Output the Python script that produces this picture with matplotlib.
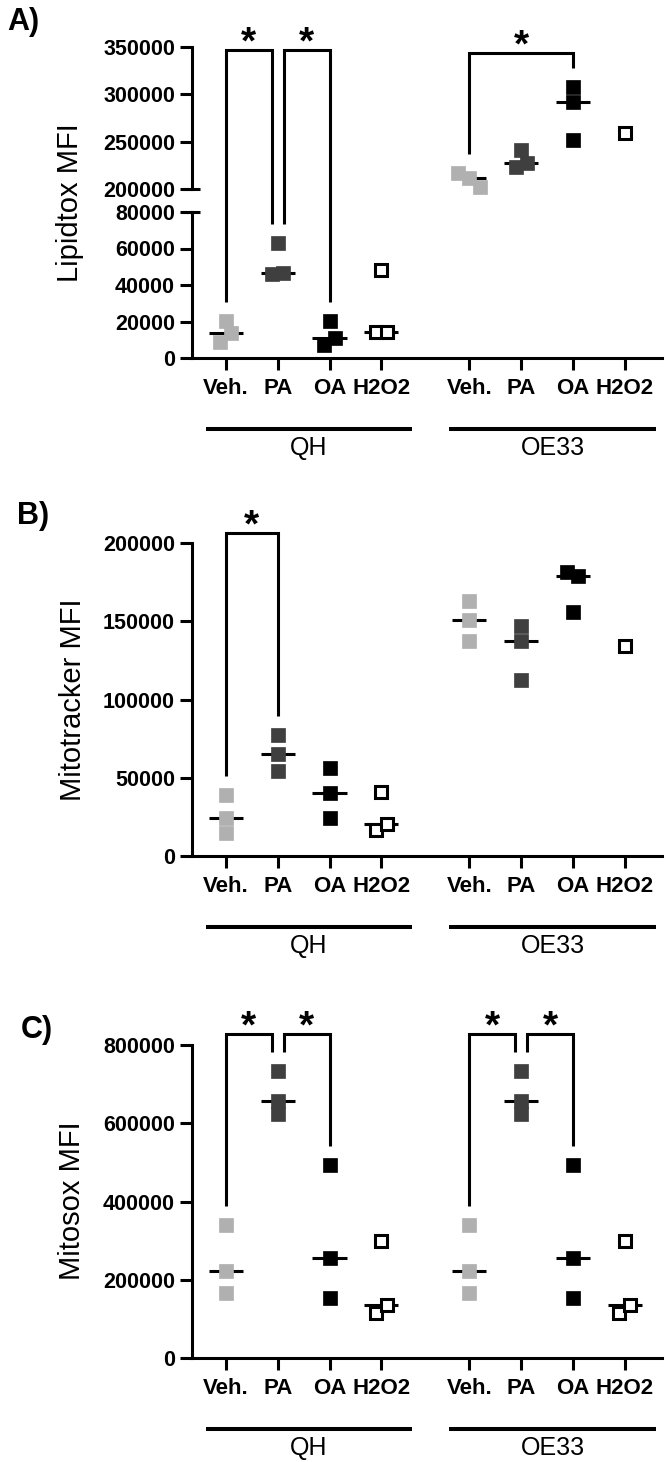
import matplotlib
matplotlib.use("Agg")
import matplotlib.pyplot as plt
from matplotlib.lines import Line2D
import numpy as np

plt.rcParams["font.family"] = ["Liberation Sans", "DejaVu Sans"]

# ---- data ----
treatments = ["Veh.", "PA", "OA", "H2O2"]
cell_lines = ["QH", "OE33"]

lipidtox_qh = [[20300, 8800, 13700], [63000, 46000, 46500], [20300, 7100, 10900], [48000, 14200, 14400]]
lipidtox_oe33 = [[216600, 211700, 202400], [241500, 223400, 227700], [307400, 291500, 252100], [259600]]

mitotracker_qh = [[39000, 24500, 15000], [77400, 65200, 54400], [56100, 40100, 24100], [41200, 16600, 20300]]
mitotracker_oe33 = [[162700, 151000, 137100], [146700, 137100, 112600], [181200, 178700, 155600], [133900]]

mitosox_qh = [[340500, 222400, 166800], [734000, 656100, 622800], [493600, 254900, 154000], [299400, 115500, 134300]]
mitosox_oe33 = [[340500, 222400, 166800], [734000, 656100, 622800], [493600, 254900, 154000], [299400, 115500, 134300]]

# ---- styling ----
W, H = 666, 1462
LW = 2.2
fills = ["#b0b0b0", "#3f3f3f", "#000000", "white"]
edges = ["#b0b0b0", "#3f3f3f", "#000000", "#000000"]
group_starts = [0.0, 4.7]
XLIM = (-0.656, 8.42)

fig = plt.figure(figsize=(W / 100, H / 100), dpi=100)


def px_axes(left, top, right, bottom):
    return fig.add_axes([left / W, 1 - bottom / H, (right - left) / W, (bottom - top) / H])


def style_axes(ax, ylim, yticks, show_x=True):
    ax.set_xlim(*XLIM)
    ax.set_ylim(*ylim)
    ax.set_yticks(yticks)
    ax.set_yticklabels([str(int(t)) for t in yticks], fontsize=15.5, fontweight="bold")
    for s in ["top", "right"]:
        ax.spines[s].set_visible(False)
    for s in ["left", "bottom"]:
        ax.spines[s].set_linewidth(LW)
    ax.tick_params(axis="y", length=8.6, width=LW, pad=3.6)
    if show_x:
        xs = [g + i for g in group_starts for i in range(len(treatments))]
        ax.set_xticks(xs)
        ax.set_xticklabels(treatments * 2, fontsize=16, fontweight="bold")
        ax.tick_params(axis="x", length=8.6, width=LW, pad=6.0)
    else:
        ax.spines["bottom"].set_visible(False)
        ax.set_xticks([])


def dodge(ax, values, gap_px=10, step=0.212):
    ys = ax.transData.transform(np.column_stack([np.zeros(len(values)), values]))[:, 1]
    order = list(np.argsort(-ys))
    clusters = [[order[0]]]
    for a, b in zip(order[:-1], order[1:]):
        if ys[a] - ys[b] < gap_px:
            clusters[-1].append(b)
        else:
            clusters.append([b])
    offs = np.zeros(len(values))
    for c in clusters:
        c = sorted(c)
        for k, idx in enumerate(c):
            offs[idx] = (k - (len(c) - 1) / 2) * step
    return offs


def draw_group(ax, x0, values, t):
    offs = dodge(ax, values)
    open_marker = t == 3
    ax.plot(x0 + offs, values, ls="none", marker="s",
            ms=9.0 if open_marker else 9.4, mfc=fills[t], mec=edges[t],
            mew=2.2 if open_marker else 0.5, zorder=4, clip_on=False)
    if len(values) > 1:
        med = np.median(values)
        ax.plot([x0 - 0.33, x0 + 0.33], [med, med], color="k", lw=LW,
                solid_capstyle="butt", zorder=3, clip_on=False)


def draw_panel(ax_for, data_by_line):
    for g, groups in zip(group_starts, data_by_line):
        for t, vals in enumerate(groups):
            draw_group(ax_for(vals), g + t, vals, t)


def fig_line(xs_px, ys_px, lw=LW):
    fig.add_artist(Line2D([x / W for x in xs_px], [y / H for y in ys_px],
                          transform=fig.transFigure, lw=lw, color="k",
                          solid_joinstyle="miter", solid_capstyle="butt"))


def star(x_px, level_px, size=28):
    em = size * 100 / 72
    fig.text(x_px / W, (level_px + 19 - 0.58 * em) / H, "*", fontsize=size,
             fontweight="bold", ha="center", va="baseline")


def bracket(ax1, x1, v1, ax2, x2, v2, level_px, shrink1=0.0, shrink2=0.0):
    p1 = ax1.transData.transform((x1, max(v1)))
    p2 = ax2.transData.transform((x2, max(v2)))
    xa, xb = p1[0] + shrink1, p2[0] - shrink2
    fig_line([xa, xa, xb, xb], [p1[1] + 19, level_px, level_px, p2[1] + 19])
    star((xa + xb) / 2, level_px)


def group_lines(ax, below_px):
    y0 = ax.transAxes.transform((0, 0))[1]
    for g, name in zip(group_starts, cell_lines):
        xa = ax.transData.transform((g - 0.39, 0))[0]
        xb = ax.transData.transform((g + 3.6, 0))[0]
        fig_line([xa, xb], [y0 - below_px, y0 - below_px], lw=2.9)
        fig.text((xa + xb) / 2 / W, (y0 - below_px - 19) / H, name, fontsize=18,
                 ha="center", va="center")


def top_px(ax):
    return ax.transAxes.transform((0, 1))[1]


# ---- panel A (broken axis) ----
axA_hi = px_axes(192, 47, 662, 189)
axA_lo = px_axes(192, 212, 662, 358)
style_axes(axA_hi, (200000, 350000), [200000, 250000, 300000, 350000], show_x=False)
style_axes(axA_lo, (0, 80000), [0, 20000, 40000, 60000, 80000])
for yy in (189, 212):
    fig_line([183, 200], [H - yy, H - yy])

draw_panel(lambda v: axA_lo if max(v) < 80000 else axA_hi, [lipidtox_qh, lipidtox_oe33])
lvlA = top_px(axA_hi)
bracket(axA_lo, 0, lipidtox_qh[0], axA_lo, 1, lipidtox_qh[1], lvlA - 3, shrink2=6)
bracket(axA_lo, 1, lipidtox_qh[1], axA_lo, 2, lipidtox_qh[2], lvlA - 3, shrink1=6)
bracket(axA_hi, 4.7, lipidtox_oe33[0], axA_hi, 6.7, lipidtox_oe33[2], lvlA - 6)
group_lines(axA_lo, 71)

# ---- panel B ----
axB = px_axes(192, 543, 662, 856)
style_axes(axB, (0, 200000), [0, 50000, 100000, 150000, 200000])
draw_panel(lambda v: axB, [mitotracker_qh, mitotracker_oe33])
bracket(axB, 0, mitotracker_qh[0], axB, 1, mitotracker_qh[1], top_px(axB) + 10)
group_lines(axB, 71)

# ---- panel C ----
axC = px_axes(192, 1045, 662, 1358)
style_axes(axC, (0, 800000), [0, 200000, 400000, 600000, 800000])
draw_panel(lambda v: axC, [mitosox_qh, mitosox_oe33])
lvlC = top_px(axC) + 11
for g, d in zip(group_starts, [mitosox_qh, mitosox_oe33]):
    bracket(axC, g, d[0], axC, g + 1, d[1], lvlC, shrink2=6)
    bracket(axC, g + 1, d[1], axC, g + 2, d[2], lvlC, shrink1=6)
group_lines(axC, 71)

# ---- axis titles and panel letters ----
for label, (x, y) in [("Lipidtox MFI", (70, 203)), ("Mitotracker MFI", (73, 700)),
                      ("Mitosox MFI", (72, 1201))]:
    fig.text(x / W, 1 - y / H, label, fontsize=21, rotation=90, ha="center", va="center")
for label, (x, y) in [("A)", (23, 22)), ("B)", (33, 516)), ("C)", (37, 1030))]:
    fig.text(x / W, 1 - y / H, label, fontsize=22, fontweight="bold", ha="center", va="center")

fig.savefig("out.png", dpi=100)
